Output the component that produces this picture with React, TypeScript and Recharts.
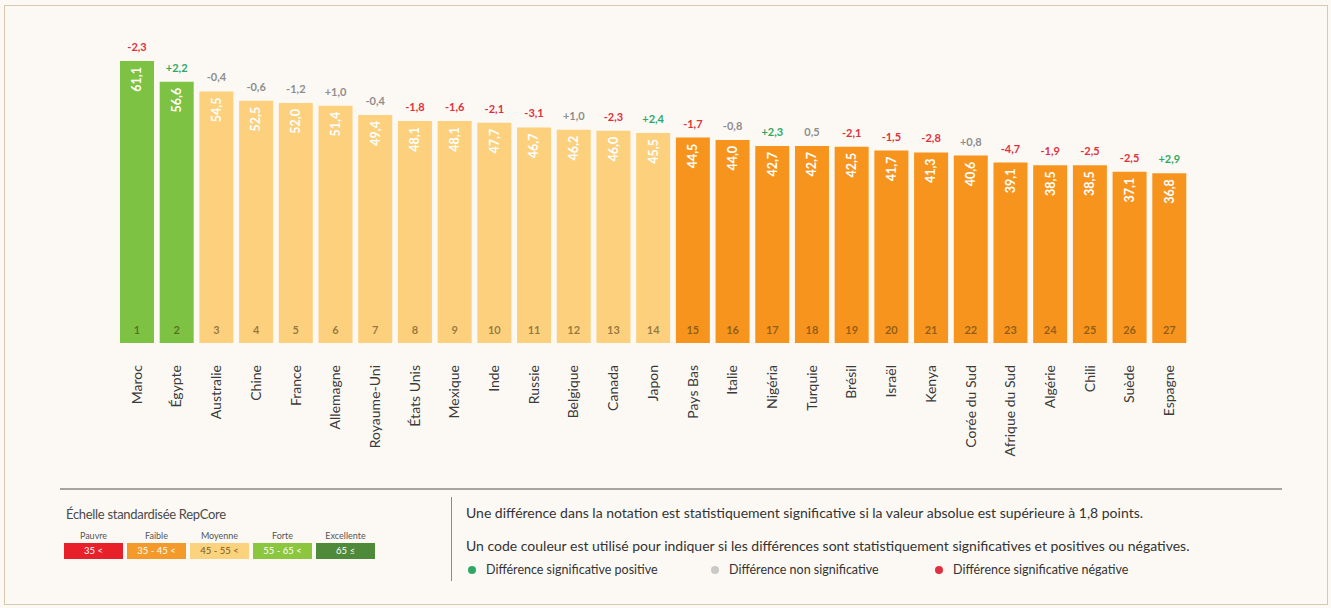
import React from 'react';
import { BarChart, Bar, XAxis, YAxis, Cell, LabelList } from 'recharts';

const countries = ['Maroc', 'Égypte', 'Australie', 'Chine', 'France', 'Allemagne', 'Royaume-Uni', 'États Unis', 'Mexique', 'Inde', 'Russie', 'Belgique', 'Canada', 'Japon', 'Pays Bas', 'Italie', 'Nigéria', 'Turquie', 'Brésil', 'Israël', 'Kenya', 'Corée du Sud', 'Afrique du Sud', 'Algérie', 'Chili', 'Suède', 'Espagne'];
const scores = [61.1, 56.6, 54.5, 52.5, 52.0, 51.4, 49.4, 48.1, 48.1, 47.7, 46.7, 46.2, 46.0, 45.5, 44.5, 44.0, 42.7, 42.7, 42.5, 41.7, 41.3, 40.6, 39.1, 38.5, 38.5, 37.1, 36.8];
const deltas = ['-2,3', '+2,2', '-0,4', '-0,6', '-1,2', '+1,0', '-0,4', '-1,8', '-1,6', '-2,1', '-3,1', '+1,0', '-2,3', '+2,4', '-1,7', '-0,8', '+2,3', '0,5', '-2,1', '-1,5', '-2,8', '+0,8', '-4,7', '-1,9', '-2,5', '-2,5', '+2,9'];
const significance = ['neg', 'pos', 'ns', 'ns', 'ns', 'ns', 'ns', 'neg', 'neg', 'neg', 'neg', 'ns', 'neg', 'pos', 'neg', 'ns', 'pos', 'ns', 'neg', 'neg', 'neg', 'ns', 'neg', 'neg', 'neg', 'neg', 'pos'];
const ranks = ['1', '2', '3', '4', '5', '6', '7', '8', '9', '10', '11', '12', '13', '14', '15', '16', '17', '18', '19', '20', '21', '22', '23', '24', '25', '26', '27'];

const scaleLabels = ['Pauvre', 'Faible', 'Moyenne', 'Forte', 'Excellente'];
const scaleRanges = ['35 <', '35 - 45 <', '45 - 55 <', '55 - 65 <', '65 ≤'];
const scaleColors = ['#E8202A', '#F39A2B', '#FBD27E', '#8CC63F', '#4E8A3A'];

const data = countries.map((c, i) => ({
  country: c,
  score: scores[i],
  delta: deltas[i],
  sig: significance[i],
  rank: ranks[i],
}));

const FONT = 'Lato, "Open Sans", "DejaVu Sans", sans-serif';

function barColor(v: number) {
  if (v >= 65) return '#4E8A3A';
  if (v >= 55) return '#7DC242';
  if (v >= 45) return '#FCD07C';
  if (v >= 35) return '#F7941D';
  return '#E8202A';
}

const sigColor: Record<string, string> = { pos: '#2FA866', neg: '#E0303F', ns: '#8E8E8E' };

const XTick = (props: any) => {
  const { x, y, payload } = props;
  return (
    <text
      transform={`translate(${x},${y + 14}) rotate(-90)`}
      textAnchor="end"
      dy="0.35em"
      fontFamily={FONT}
      fontSize={14}
      fill="#3a3a3a"
    >
      {payload.value}
    </text>
  );
};

const ValueLabel = (props: any) => {
  const { x, y, width, value } = props;
  const cx = x + width / 2;
  return (
    <text
      transform={`translate(${cx},${y + 6}) rotate(-90)`}
      textAnchor="end"
      dy="0.35em"
      fontFamily={FONT}
      fontSize={12.5}
      fontWeight={700}
      fill="#ffffff"
    >
      {String(value.toFixed(1)).replace('.', ',')}
    </text>
  );
};

const RankLabel = (props: any) => {
  const { x, y, width, height, index } = props;
  return (
    <text
      x={x + width / 2}
      y={y + height - 13}
      textAnchor="middle"
      dy="0.35em"
      fontFamily={FONT}
      fontSize={11}
      fontWeight={700}
      fill="rgba(60,45,10,0.55)"
    >
      {ranks[index]}
    </text>
  );
};

const DeltaLabel = (props: any) => {
  const { x, y, width, index } = props;
  return (
    <text
      x={x + width / 2}
      y={y - 10}
      textAnchor="middle"
      fontFamily={FONT}
      fontSize={11}
      fontWeight={700}
      fill={sigColor[significance[index]]}
    >
      {deltas[index]}
    </text>
  );
};

export default function App() {
  return (
    <div
      style={{
        position: 'absolute',
        left: 0,
        top: 0,
        width: 1331,
        height: 608,
        background: '#FCF9F4',
        fontFamily: FONT,
        overflow: 'hidden',
      }}
    >
      <div
        style={{
          position: 'absolute',
          left: 4,
          top: 5,
          width: 1322,
          height: 598,
          border: '1px solid #D8C8AE',
        }}
      />
      <div style={{ position: 'absolute', left: 0, top: 0 }}>
        <BarChart
          width={1331}
          height={608}
          data={data}
          margin={{ top: 43, right: 142, bottom: 145, left: 117 }}
          barCategoryGap={3}
        >
          <YAxis hide domain={[0, 65]} />
          <XAxis
            dataKey="country"
            interval={0}
            tickLine={false}
            axisLine={false}
            height={120}
            tick={<XTick />}
          />
          <Bar dataKey="score" isAnimationActive={false}>
            {data.map((d, i) => (
              <Cell key={i} fill={barColor(d.score)} />
            ))}
            <LabelList dataKey="score" content={<ValueLabel />} />
            <LabelList dataKey="rank" content={<RankLabel />} />
            <LabelList dataKey="delta" content={<DeltaLabel />} />
          </Bar>
        </BarChart>
      </div>

      {/* divider lines */}
      <div style={{ position: 'absolute', left: 60, top: 488, width: 1222, height: 2, background: '#A9A59E' }} />
      <div style={{ position: 'absolute', left: 451, top: 497, width: 1, height: 84, background: '#8E8A84' }} />

      {/* scale legend */}
      <div style={{ position: 'absolute', left: 66, top: 506, fontSize: 13, color: '#4a4a4a', letterSpacing: -0.3, whiteSpace: 'nowrap' }}>
        Échelle standardisée RepCore
      </div>
      {scaleLabels.map((l, i) => (
        <div key={l}>
          <div
            style={{
              position: 'absolute',
              left: 64 + i * 63,
              top: 530,
              width: 59,
              textAlign: 'center',
              fontSize: 9,
              color: '#555',
            }}
          >
            {l}
          </div>
          <div
            style={{
              position: 'absolute',
              left: 64 + i * 63,
              top: 543,
              width: 59,
              height: 16,
              background: scaleColors[i],
              color: i === 2 ? '#7a5a20' : '#fff',
              fontSize: 9.5,
              lineHeight: '16px',
              textAlign: 'center',
            }}
          >
            {scaleRanges[i]}
          </div>
        </div>
      ))}

      {/* significance legend */}
      <div style={{ position: 'absolute', left: 466, top: 504, fontSize: 14, color: '#333', letterSpacing: 0, whiteSpace: 'nowrap' }}>
        Une différence dans la notation est statistiquement significative si la valeur absolue est supérieure à 1,8 points.
      </div>
      <div style={{ position: 'absolute', left: 466, top: 537, fontSize: 14, color: '#333', letterSpacing: 0, whiteSpace: 'nowrap' }}>
        Un code couleur est utilisé pour indiquer si les différences sont statistiquement significatives et positives ou négatives.
      </div>
      {[
        { c: '#2FA866', t: 'Différence significative positive', x: 468 },
        { c: '#C9C9C9', t: 'Différence non significative', x: 711 },
        { c: '#E0303F', t: 'Différence significative négative', x: 935 },
      ].map((it) => (
        <div key={it.t} style={{ position: 'absolute', left: it.x, top: 562, display: 'flex', alignItems: 'center', whiteSpace: 'nowrap' }}>
          <div style={{ width: 8, height: 8, borderRadius: 4, background: it.c, marginRight: 10 }} />
          <div style={{ fontSize: 12.5, color: '#333', letterSpacing: 0 }}>{it.t}</div>
        </div>
      ))}
    </div>
  );
}
